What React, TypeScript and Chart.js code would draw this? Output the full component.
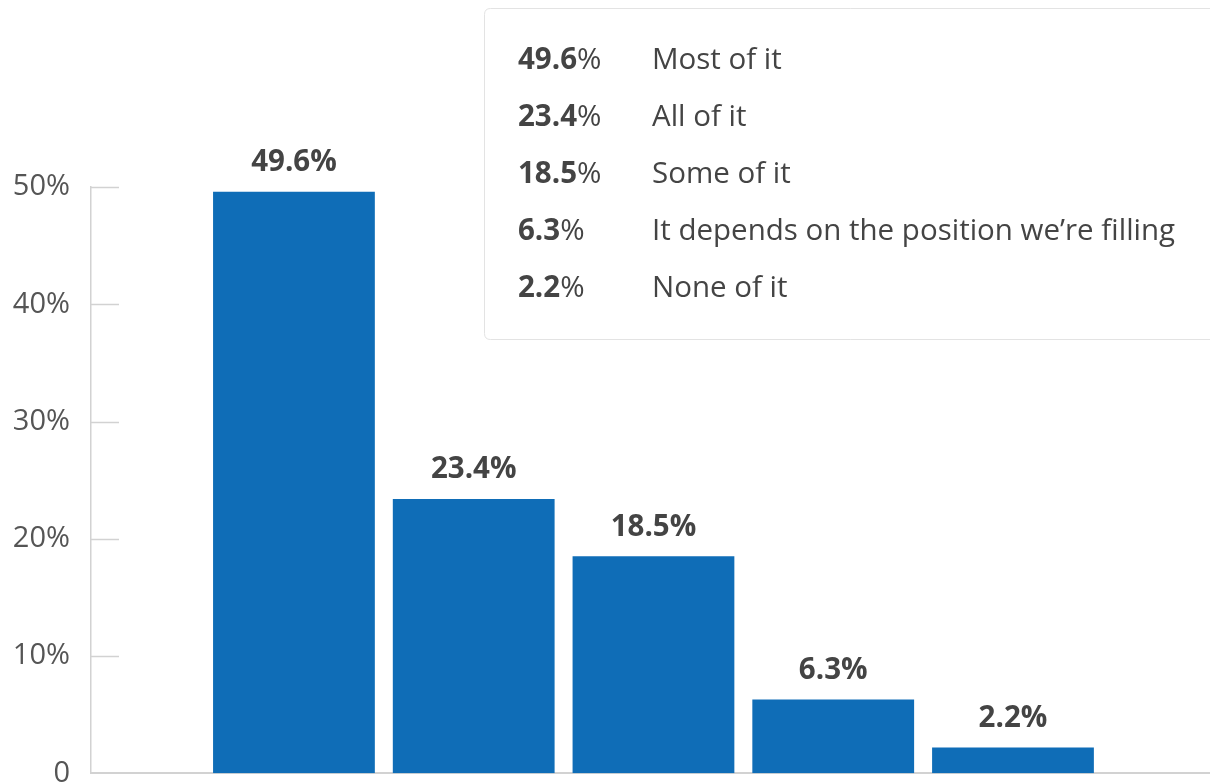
import React, { useEffect, useRef } from "react";
import { Chart, registerables } from "chart.js";

Chart.register(...registerables);

const categories = ["Most of it", "All of it", "Some of it", "It depends on the position we\u2019re filling", "None of it"];
const values = [49.6, 23.4, 18.5, 6.3, 2.2];
const yTicks = [0, 10, 20, 30, 40, 50];

const BAR_COLOR = "#0F6DB7";
const TEXT_DARK = "#444444";
const TICK_TEXT = "#555555";
const AXIS_COLOR = "#d2d2d2";
const FONT = "'Open Sans', 'Noto Sans', sans-serif";

const fmt = (v: number) => v.toFixed(1);

const overlayPlugin = {
  id: "overlay",
  afterDatasetsDraw(chart: any) {
    const ctx = chart.ctx;
    const area = chart.chartArea;
    const yScale = chart.scales.y;
    ctx.save();
    ctx.strokeStyle = AXIS_COLOR;
    ctx.lineWidth = 1.5;
    yTicks.forEach((t) => {
      if (t === 0) return;
      const y = Math.round(yScale.getPixelForValue(t)) + 0.5;
      ctx.beginPath();
      ctx.moveTo(area.left, y);
      ctx.lineTo(area.left + 28, y);
      ctx.stroke();
    });
    ctx.restore();

    const meta = chart.getDatasetMeta(0);
    ctx.save();
    ctx.fillStyle = TEXT_DARK;
    ctx.font = `bold 29.5px ${FONT}`;
    ctx.textAlign = "center";
    ctx.textBaseline = "middle";
    meta.data.forEach((el: any, i: number) => {
      ctx.fillText(fmt(values[i]) + "%", el.x, el.y - 29);
    });
    ctx.restore();

    ctx.save();
    const bx = 484.5, by = 8.5, bw = 760, bh = 331, r = 6;
    ctx.beginPath();
    ctx.moveTo(bx + r, by);
    ctx.lineTo(bx + bw - r, by);
    ctx.quadraticCurveTo(bx + bw, by, bx + bw, by + r);
    ctx.lineTo(bx + bw, by + bh - r);
    ctx.quadraticCurveTo(bx + bw, by + bh, bx + bw - r, by + bh);
    ctx.lineTo(bx + r, by + bh);
    ctx.quadraticCurveTo(bx, by + bh, bx, by + bh - r);
    ctx.lineTo(bx, by + r);
    ctx.quadraticCurveTo(bx, by, bx + r, by);
    ctx.closePath();
    ctx.fillStyle = "#ffffff";
    ctx.fill();
    ctx.strokeStyle = "#e3e3e3";
    ctx.lineWidth = 1;
    ctx.stroke();

    ctx.textBaseline = "middle";
    ctx.textAlign = "left";
    ctx.fillStyle = TEXT_DARK;
    categories.forEach((c, i) => {
      const y = 61 + i * 57;
      ctx.font = `bold 29.5px ${FONT}`;
      const num = fmt(values[i]);
      ctx.fillText(num, 518, y);
      const w = ctx.measureText(num).width;
      ctx.font = `29.5px ${FONT}`;
      ctx.fillText("%", 518 + w, y);
      ctx.fillText(c, 652, y);
    });
    ctx.restore();
  },
};

export default function App() {
  const ref = useRef<HTMLCanvasElement | null>(null);
  useEffect(() => {
    if (!ref.current) return;
    const chart = new Chart(ref.current, {
      type: "bar",
      data: {
        labels: categories,
        datasets: [
          {
            data: values.map((v, i) => ({ x: i, y: v })),
            backgroundColor: BAR_COLOR,
            barPercentage: 0.9,
            categoryPercentage: 1,
            borderWidth: 0,
          },
        ],
      },
      options: {
        responsive: false,
        animation: false,
        layout: { padding: { top: 187, bottom: 9, left: 0, right: 0 } },
        plugins: { legend: { display: false }, tooltip: { enabled: false } },
        scales: {
          x: {
            type: "linear",
            offset: false,
            min: -1.129,
            max: 5.096,
            grid: { display: false, drawTicks: false },
            ticks: { display: false },
            border: { display: true, color: AXIS_COLOR, width: 2 },
            afterFit: (s: any) => {
              s.height = 0;
            },
          },
          y: {
            min: 0,
            max: 50,
            ticks: {
              stepSize: 10,
              padding: 21,
              color: TICK_TEXT,
              font: { family: FONT, size: 29, lineHeight: 0.6 },
              callback: (v: any) => (v === 0 ? "0" : v + "%"),
            },
            grid: { display: false, drawTicks: false },
            border: { display: true, color: AXIS_COLOR, width: 1.5 },
            afterFit: (s: any) => {
              s.width = 91;
            },
          },
        },
      },
      plugins: [overlayPlugin],
    } as any);
    return () => chart.destroy();
  }, []);
  return (
    <div style={{ position: "fixed", left: 0, top: 0, width: 1210, height: 783, overflow: "hidden", background: "#fff" }}>
      <canvas ref={ref} width={1210} height={803} style={{ display: "block" }} />
    </div>
  );
}
